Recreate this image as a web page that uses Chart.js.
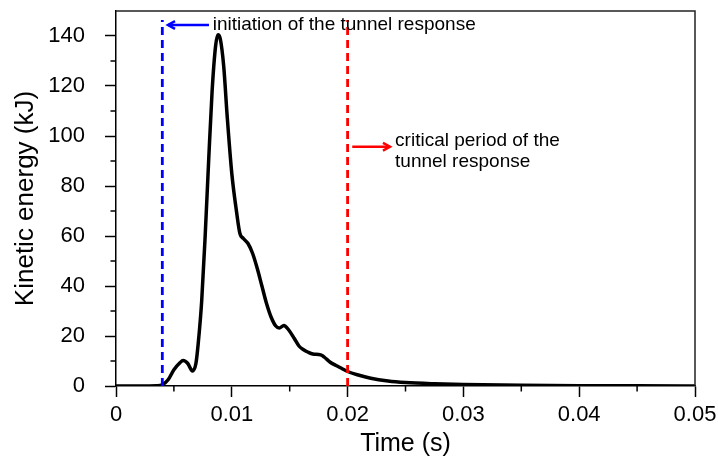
<!DOCTYPE html>
<html>
<head>
<meta charset="utf-8">
<script src="https://cdn.jsdelivr.net/npm/chart.js@4.4.1/dist/chart.umd.min.js"></script>
<style>
  html, body { margin: 0; padding: 0; background: #fff; }
  canvas { display: block; }
</style>
</head>
<body>
<canvas id="chart" width="718" height="471"></canvas>
<script>
/********** DATA **********/
const timeS = [
  0, 0.002, 0.0035, 0.004, 0.0045, 0.005, 0.0055, 0.0058, 0.0062, 0.0066,
  0.0069, 0.0071, 0.0074, 0.0077, 0.008, 0.0083, 0.0086, 0.0088, 0.009, 0.0093,
  0.0096, 0.01, 0.0104, 0.0107, 0.011, 0.0114, 0.0118, 0.0122, 0.0126, 0.013,
  0.0134, 0.0138, 0.0141, 0.0145, 0.0149, 0.0154, 0.0158, 0.0162, 0.0166, 0.017,
  0.0175, 0.0178, 0.018, 0.0185, 0.019, 0.0195, 0.02, 0.021, 0.022, 0.0235,
  0.025, 0.0275, 0.03, 0.035, 0.04, 0.045, 0.05
];
const energyKJ = [
  0, 0, 0.1, 0.5, 2.5, 6.5, 9.2, 10.2, 9, 6,
  9, 17, 34, 60, 90, 118, 136, 140.5, 139, 128,
  108, 85, 70, 61, 59, 57, 53, 47, 40, 33,
  27.5, 24, 23.2, 24.2, 22.5, 19, 16, 14.5, 13.5, 12.8,
  12.6, 12.2, 11.5, 9.5, 8.2, 7, 5.8, 4.3, 3.1, 2.0,
  1.4, 0.9, 0.6, 0.3, 0.15, 0.07, 0.03
];

const xTicks = [0, 0.01, 0.02, 0.03, 0.04, 0.05];
const yTicks = [0, 20, 40, 60, 80, 100, 120, 140];

const initiationTime = 0.004;
const criticalTime = 0.02;
const markerTop = 146.4;

/********** ANNOTATIONS (data units) **********/
const NOTES = {
  blueArrow: { x1: 0.00803, x2: 0.00449, y: 144.4 },
  blueText: { x: 0.00835, y: 142.4, lines: ['initiation of the tunnel response'] },
  redArrow: { x1: 0.0204, x2: 0.02366, y: 95.7 },
  redText: { x: 0.0241, y: 96, lines: ['critical period of the', 'tunnel response'] }
};

const FONT = 'Liberation Sans, Arial, sans-serif';

function arrow(ctx, x1, y1, x2, y2, color) {
  const ang = Math.atan2(y2 - y1, x2 - x1);
  const h = 8;
  ctx.save();
  ctx.strokeStyle = color;
  ctx.lineWidth = 2.5;
  ctx.beginPath();
  ctx.moveTo(x1, y1);
  ctx.lineTo(x2, y2);
  ctx.stroke();
  ctx.beginPath();
  ctx.moveTo(x2 - h * Math.cos(ang - 0.5), y2 - h * Math.sin(ang - 0.5));
  ctx.lineTo(x2, y2);
  ctx.lineTo(x2 - h * Math.cos(ang + 0.5), y2 - h * Math.sin(ang + 0.5));
  ctx.stroke();
  ctx.restore();
}

const framePlugin = {
  id: 'frame',
  afterDatasetsDraw(chart) {
    const { ctx, chartArea: a, scales: { x, y } } = chart;
    ctx.save();
    // top + right frame
    ctx.strokeStyle = '#222';
    ctx.lineWidth = 1.5;
    ctx.beginPath();
    ctx.moveTo(a.left, a.top);
    ctx.lineTo(a.right, a.top);
    ctx.lineTo(a.right, a.bottom);
    ctx.stroke();

    // minor ticks
    ctx.strokeStyle = '#000';
    ctx.beginPath();
    for (let v = 10; v < 150; v += 20) {
      const py = y.getPixelForValue(v);
      ctx.moveTo(a.left - 5.5, py);
      ctx.lineTo(a.left, py);
    }
    for (let v = 0.005; v < 0.05; v += 0.01) {
      const px = x.getPixelForValue(v);
      ctx.moveTo(px, a.bottom);
      ctx.lineTo(px, a.bottom + 5.5);
    }
    ctx.stroke();

    // arrows
    const b = NOTES.blueArrow, r = NOTES.redArrow;
    arrow(ctx, x.getPixelForValue(b.x1), y.getPixelForValue(b.y),
      x.getPixelForValue(b.x2), y.getPixelForValue(b.y), '#0000ff');
    arrow(ctx, x.getPixelForValue(r.x1), y.getPixelForValue(r.y),
      x.getPixelForValue(r.x2), y.getPixelForValue(r.y), '#ff0000');

    // texts
    ctx.fillStyle = '#000';
    ctx.font = '19px ' + FONT;
    ctx.textBaseline = 'alphabetic';
    ctx.textAlign = 'left';
    [NOTES.blueText, NOTES.redText].forEach(t => {
      const px = x.getPixelForValue(t.x);
      let py = y.getPixelForValue(t.y);
      t.lines.forEach(line => {
        ctx.fillText(line, px, py);
        py += 21;
      });
    });
    ctx.restore();
  }
};

new Chart(document.getElementById('chart'), {
  type: 'line',
  data: {
    datasets: [
      {
        data: [{ x: initiationTime, y: 0 }, { x: initiationTime, y: markerTop }],
        borderColor: '#0000ff',
        borderWidth: 2.8,
        borderDash: [8, 5],
        pointRadius: 0,
        tension: 0
      },
      {
        data: [{ x: criticalTime, y: 0 }, { x: criticalTime, y: markerTop }],
        borderColor: '#ff0000',
        borderWidth: 2.8,
        borderDash: [8, 5],
        pointRadius: 0,
        tension: 0
      },
      {
        data: timeS.map((t, i) => ({ x: t, y: energyKJ[i] })),
        borderColor: '#000',
        borderWidth: 3.5,
        pointRadius: 0,
        cubicInterpolationMode: 'monotone'
      }
    ]
  },
  options: {
    responsive: false,
    animation: false,
    devicePixelRatio: 1,
    layout: { padding: { left: 0, top: 11, right: 23, bottom: 0 } },
    plugins: { legend: { display: false }, tooltip: { enabled: false } },
    scales: {
      x: {
        type: 'linear',
        min: 0,
        max: 0.05,
        afterFit: s => {
          s.height = 85;
          s.paddingLeft = 0;
          s.paddingRight = 0;
        },
        afterBuildTicks: s => { s.ticks = xTicks.map(v => ({ value: v })); },
        ticks: {
          color: '#000',
          font: { family: FONT, size: 22 },
          padding: 5,
          maxRotation: 0,
          callback: v => String(+v.toFixed(2))
        },
        grid: { drawOnChartArea: false, drawTicks: true, tickLength: 11, tickColor: '#000', tickWidth: 1.5 },
        border: { display: true, color: '#000', width: 1.5 },
        title: {
          display: true,
          text: 'Time (s)',
          color: '#000',
          font: { family: FONT, size: 25 },
          padding: { top: 0, bottom: 12 }
        }
      },
      y: {
        min: 0,
        max: 150,
        afterFit: s => {
          s.width = 116;
          s.paddingTop = 0;
          s.paddingBottom = 0;
        },
        afterBuildTicks: s => { s.ticks = yTicks.map(v => ({ value: v })); },
        ticks: {
          color: '#000',
          font: { family: FONT, size: 22 },
          padding: 20
        },
        grid: { drawOnChartArea: false, drawTicks: true, tickLength: 11, tickColor: '#000', tickWidth: 1.5 },
        border: { display: true, color: '#000', width: 1.5 },
        title: {
          display: true,
          text: 'Kinetic energy (kJ)',
          color: '#000',
          font: { family: FONT, size: 26 },
          padding: { top: 10, bottom: 0 }
        }
      }
    }
  },
  plugins: [framePlugin]
});
</script>
</body>
</html>
